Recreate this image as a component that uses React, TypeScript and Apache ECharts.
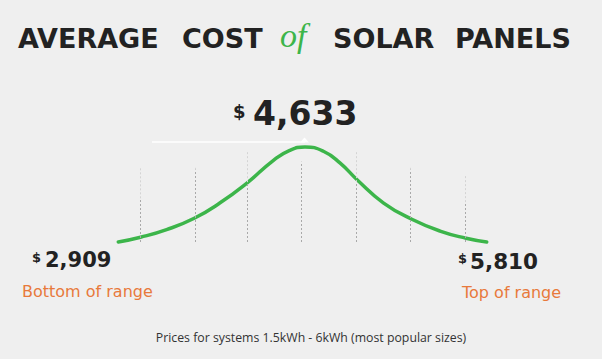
import React, { useEffect, useRef } from "react";
import * as echarts from "echarts";

// Curve (shape of the price distribution), x in units of the dashed guide spacing
const xPos = [-0.41, 0, 0.48, 0.99, 1.46, 1.96, 2.45, 2.75, 3.03, 3.37, 3.68, 4.0, 4.48, 5.0, 5.52, 6.0, 6.38];
const curveValues = [0, 5, 13, 25, 41, 62, 86, 96.5, 100, 95.5, 83, 65, 41, 24, 11.5, 4, 0];

// Dashed vertical guides
const guideX = [0, 1, 1.97, 2.97, 3.98, 4.98, 5.99];
const guideTop = [77.6, 79, 95, 84.5, 95, 79, 70.5];
const guideDarkTop = [46, 76, 63, 84.5, 63, 76, 42];

// Texts
const titleWords = ["AVERAGE", "COST", "of", "SOLAR", "PANELS"];
const averageLabel = "4,633";
const bottomLabel = "2,909";
const topLabel = "5,810";
const bottomCaption = "Bottom of range";
const topCaption = "Top of range";
const footnote = "Prices for systems 1.5kWh - 6kWh (most popular sizes)";

const DARK = "#222222";
const GREEN = "#3cb54a";
const ORANGE = "#e8793b";
const BG = "#efefef";

export default function App() {
  const ref = useRef<HTMLDivElement>(null);

  useEffect(() => {
    if (!ref.current) return;
    const chart = echarts.init(ref.current, undefined, { renderer: "svg" });

    const titleX = [18, 182, 280, 333, 455];
    const txt = (text: string, x: number, y: number, font: string, fill: string, align = "left") => ({
      type: "text",
      x,
      y,
      silent: true,
      style: { text, font, fill, textAlign: align, textVerticalAlign: "middle" },
    });

    const graphic: any[] = [];
    titleWords.forEach((w, i) => {
      if (w === "of") {
        graphic.push(txt(w, titleX[i], 35, "italic 34px 'Liberation Serif'", GREEN));
      } else {
        graphic.push(txt(w, titleX[i], 38, "bold 27px 'DejaVu Sans'", DARK));
      }
    });
    graphic.push(txt("$", 233, 111, "bold 18px 'DejaVu Sans'", DARK));
    graphic.push(txt(averageLabel, 253, 113, "bold 33px 'DejaVu Sans'", DARK));
    graphic.push(txt("$", 32, 257, "bold 13px 'DejaVu Sans'", DARK));
    graphic.push(txt(bottomLabel, 45, 260, "bold 21px 'DejaVu Sans'", DARK));
    graphic.push(txt("$", 458, 258, "bold 13px 'DejaVu Sans'", DARK));
    graphic.push(txt(topLabel, 470, 261, "bold 21.5px 'DejaVu Sans'", DARK));
    graphic.push(txt(bottomCaption, 22, 291, "16px 'DejaVu Sans'", ORANGE));
    graphic.push(txt(topCaption, 462, 292, "16px 'DejaVu Sans'", ORANGE));
    graphic.push(txt(footnote, 311, 337, "12.3px 'Open Sans'", "#333333", "center"));
    // white pointer line above the peak
    graphic.push({
      type: "line",
      silent: true,
      shape: { x1: 152, y1: 142, x2: 305, y2: 142 },
      style: { stroke: "#ffffff", lineWidth: 1.5 },
    });
    graphic.push({
      type: "polygon",
      silent: true,
      shape: { points: [[300, 142.5], [304.5, 137.5], [309, 142.5]] },
      style: { fill: "#ffffff" },
    });

    const faintData = guideX.map((gx, i) => [
      { coord: [gx, guideDarkTop[i]] },
      { coord: [gx, guideTop[i]] },
    ]);
    const darkData = guideX.map((gx, i) => [
      { coord: [gx, 0] },
      { coord: [gx, guideDarkTop[i]] },
    ]);

    const guideSeries = (data: any[], color: string) => ({
      type: "line",
      data: [],
      silent: true,
      z: 1,
      markLine: {
        silent: true,
        symbol: ["none", "none"],
        label: { show: false },
        lineStyle: { color, type: [2, 2], width: 1 },
        data,
      },
    });

    chart.setOption({
      animation: false,
      backgroundColor: BG,
      grid: { left: 118.3, right: 115.3, top: 147, bottom: 117 },
      xAxis: { type: "value", min: -0.41, max: 6.38, show: false },
      yAxis: { type: "value", min: 0, max: 100, show: false },
      graphic,
      series: [
        guideSeries(faintData, "#d4d4d4"),
        guideSeries(darkData, "#a9a9a9"),
        {
          type: "line",
          data: xPos.map((x, i) => [x, curveValues[i]]),
          smooth: 0.5,
          symbol: "none",
          clip: false,
          lineStyle: { color: GREEN, width: 3.5, cap: "round" },
          z: 3,
        },
      ],
    });

    return () => chart.dispose();
  }, []);

  return (
    <div
      ref={ref}
      style={{ position: "fixed", left: 0, top: 0, width: 602, height: 359, background: BG }}
    />
  );
}
